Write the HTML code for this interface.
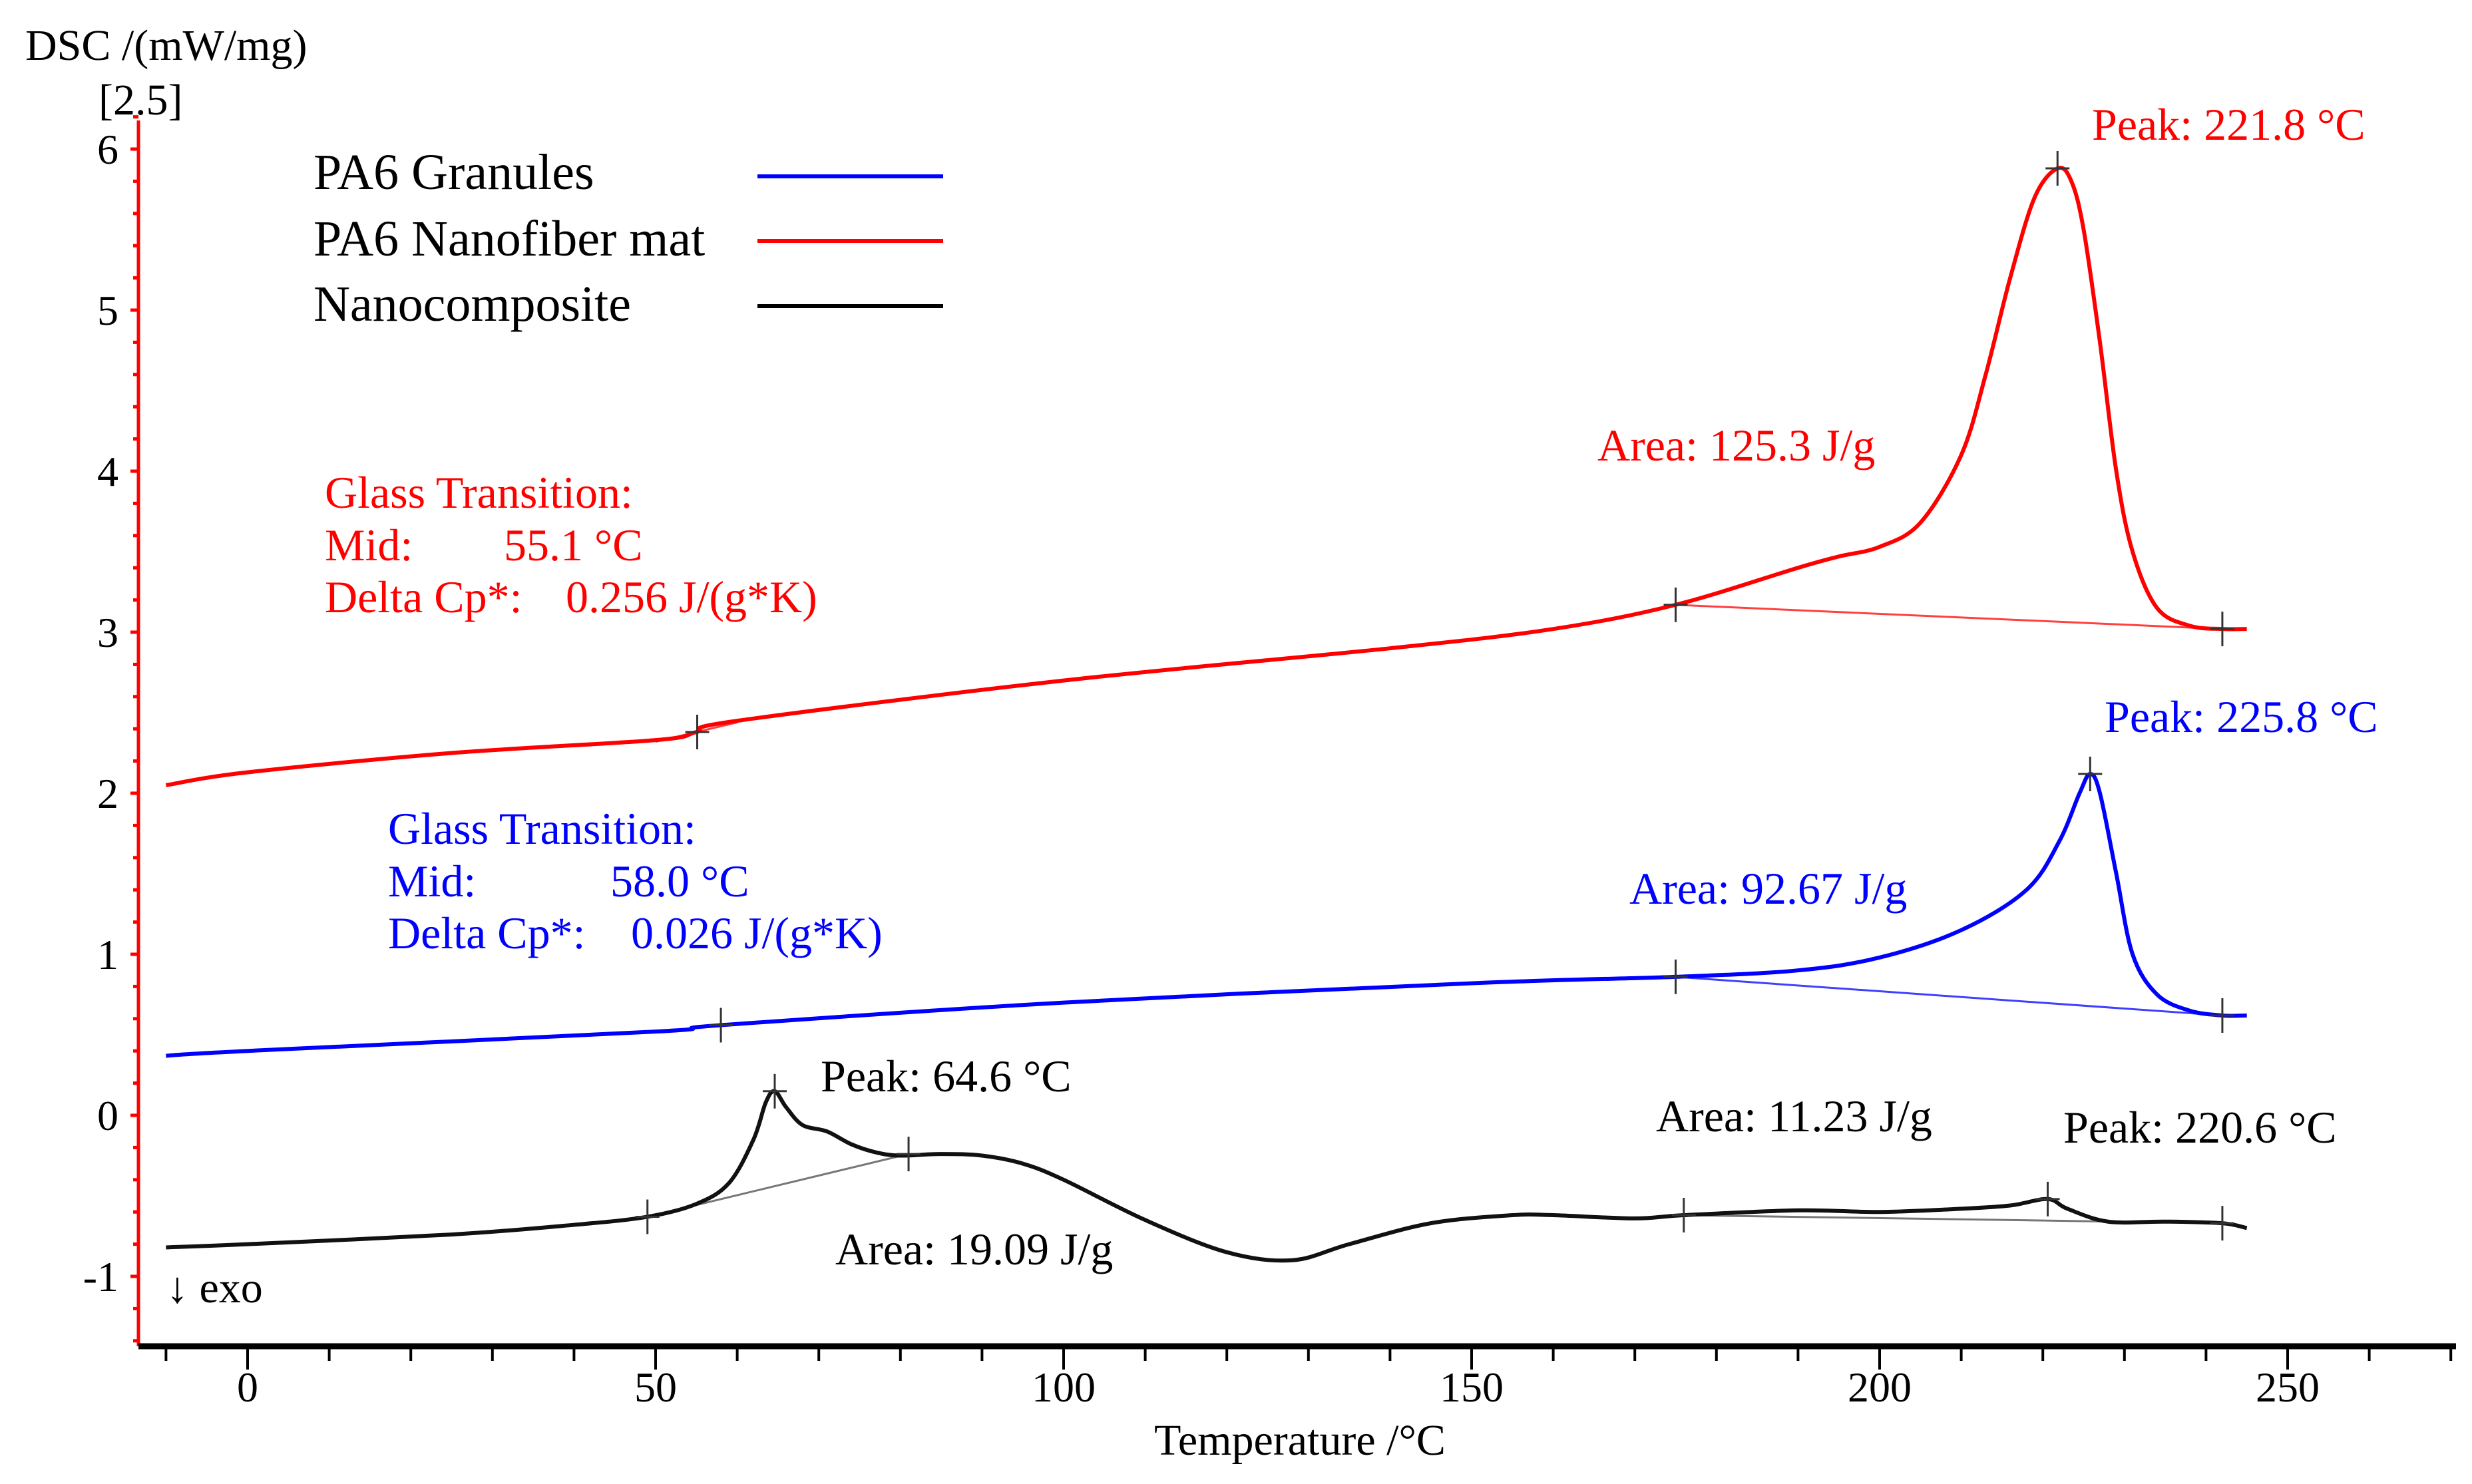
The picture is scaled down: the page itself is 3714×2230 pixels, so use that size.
<!DOCTYPE html>
<html><head><meta charset="utf-8"><style>
html,body{margin:0;padding:0;background:#fff;}
svg{display:block;font-family:"Liberation Serif",serif;}
</style></head><body>
<svg id="chart" width="3714" height="2230" viewBox="0 0 3714 2230" xmlns="http://www.w3.org/2000/svg">
<rect width="3714" height="2230" fill="#fff"/>
<g id="axes"></g>
<g id="series"></g>
<g id="labels"></g>
</svg>
<script>
// ---- data ----
const redT = [-10,0,25,50,55,60,100,140,160,175,190,195,200,205,210,213,216,219,221.8,223.5,225,227,229,231,234,238,242,245];
const redV = [2.05,2.13,2.25,2.33,2.38,2.45,2.7,2.9,3.02,3.17,3.4,3.47,3.53,3.68,4.1,4.6,5.2,5.7,5.88,5.8,5.5,4.8,4.0,3.5,3.15,3.04,3.02,3.02];
const blueT = [-10,0,50,58,100,150,175,190,200,210,218,222,224.5,225.8,227,229,231,234,238,242,245];
const blueV = [0.37,0.4,0.52,0.56,0.7,0.82,0.86,0.9,0.98,1.15,1.4,1.7,2.0,2.12,2.0,1.5,1.0,0.75,0.65,0.62,0.62];
const blackT = [-10,0,25,40,49,55,59,62,63.5,64.6,66,68,71,74,77,80,85,90,95,100,110,120,128,135,145,155,160,170,176,190,200,210,216,220.6,223,228,235,242,245];
const blackV = [-0.82,-0.8,-0.74,-0.68,-0.63,-0.55,-0.42,-0.15,0.08,0.15,0.05,-0.06,-0.1,-0.18,-0.23,-0.25,-0.24,-0.25,-0.3,-0.4,-0.65,-0.85,-0.9,-0.8,-0.67,-0.62,-0.62,-0.64,-0.62,-0.59,-0.6,-0.58,-0.56,-0.52,-0.58,-0.66,-0.66,-0.67,-0.7];
const redBase = [[175,3.17],[242,3.02]];
const redGlass = [[50,2.32],[60,2.44]];
const blueBase = [[175,0.86],[242,0.62]];
const blackBase1 = [[49,-0.63],[81,-0.24]];
const blackBase2 = [[176,-0.62],[242,-0.67]];
const redMarks = [[55.1,2.38],[175,3.17],[221.8,5.88],[242,3.02]];
const blueMarks = [[58,0.56],[175,0.86],[225.8,2.12],[242,0.62]];
const blackMarks = [[49,-0.63],[64.6,0.15],[81,-0.24],[176,-0.62],[220.6,-0.52],[242,-0.67]];
const yTickLabels = [-1,0,1,2,3,4,5,6];
const xTickLabels = [0,50,100,150,200,250];

// ---- scales ----
const X = t => 372 + t*12.26;
const Y = v => 1676 - v*242;
const NS = "http://www.w3.org/2000/svg";
function mk(tag, attrs, parent){const e=document.createElementNS(NS,tag);for(const k in attrs)e.setAttribute(k,attrs[k]);parent.appendChild(e);return e;}
const axes=document.getElementById('axes'), series=document.getElementById('series'), labels=document.getElementById('labels');

const ya = mk('line',{x1:208,y1:181,x2:208,y2:2023,stroke:'#ff0000','stroke-width':5},axes);


for(let v=-1.4; v<=6.2001; v+=0.2){
  const vv=Math.round(v*10)/10; const major=Math.abs(vv-Math.round(vv))<1e-6;
  const t=mk('line',{x1:major?196:200,y1:Y(vv),x2:208,y2:Y(vv),stroke:'#ff0000','stroke-width':5},axes);
  
  
}
yTickLabels.forEach(v=>{
  const t=mk('text',{x:178,y:Y(v)+22,'font-size':64,'text-anchor':'end',fill:'#000'},labels);
  t.textContent=v;
  
  
});
const xa = mk('line',{x1:208,y1:2023,x2:3690,y2:2023,stroke:'#000','stroke-width':9},axes);


for(let t=-10;t<=270;t+=10){
  const major=t%50===0;
  const l=mk('line',{x1:X(t),y1:2023,x2:X(t),y2:major?2058:2045,stroke:'#000','stroke-width':4},axes);
  
  
}
xTickLabels.forEach(t=>{
  const e=mk('text',{x:X(t),y:2106,'font-size':64,'text-anchor':'middle',fill:'#000'},labels);
  e.textContent=t;
  
  
});

function path(T,V){
  const p=T.map((t,i)=>[X(t),Y(V[i])]);
  let d=`M${p[0][0]},${p[0][1]}`;
  for(let i=0;i<p.length-1;i++){
    const p0=p[Math.max(0,i-1)],p1=p[i],p2=p[i+1],p3=p[Math.min(p.length-1,i+2)];
    const c1=[p1[0]+(p2[0]-p0[0])/6,p1[1]+(p2[1]-p0[1])/6];
    const c2=[p2[0]-(p3[0]-p1[0])/6,p2[1]-(p3[1]-p1[1])/6];
    d+=` C${c1[0]},${c1[1]} ${c2[0]},${c2[1]} ${p2[0]},${p2[1]}`;
  }
  return d;
}
function line(seg,col,name){
  const l=mk('line',{x1:X(seg[0][0]),y1:Y(seg[0][1]),x2:X(seg[1][0]),y2:Y(seg[1][1]),stroke:col,'stroke-width':3},series);
  
  
}
function marks(M,name){
  M.forEach(m=>{
    const x=X(m[0]),y=Y(m[1]);
    const g=mk('path',{d:`M${x-18},${y}H${x+18}M${x},${y-26}V${y+26}`,stroke:'#333','stroke-width':3,fill:'none'},series);
    
    
  });
}
line(redBase,'#ff4040','red-baseline'); line(redGlass,'#ff4040','red-glass-tangent');
line(blueBase,'#4040ff','blue-baseline');
line(blackBase1,'#777','black-baseline-1'); line(blackBase2,'#777','black-baseline-2');
const rp=mk('path',{d:path(redT,redV),stroke:'#ff0000','stroke-width':6,fill:'none'},series);


const bp=mk('path',{d:path(blueT,blueV),stroke:'#0000ff','stroke-width':6,fill:'none'},series);


const kp=mk('path',{d:path(blackT,blackV),stroke:'#111','stroke-width':6,fill:'none'},series);


marks(redMarks,'red-marker'); marks(blueMarks,'blue-marker'); marks(blackMarks,'black-marker');
</script>
<script>
(function(){
const NS="http://www.w3.org/2000/svg", L=document.getElementById('labels');
const items=[
 ['DSC /(mW/mg)',38,90,'#000','y-axis-title',null,66],
 ['[2.5]',148,172,'#000','y-axis-offset',null,66],
 ['Temperature /°C',1953,2186,'#000','x-axis-title','middle',66],
 ['PA6 Granules',471,284,'#000','legend-label-granules',null,76],
 ['PA6 Nanofiber mat',471,384,'#000','legend-label-nanofiber',null,76],
 ['Nanocomposite',471,482,'#000','legend-label-nanocomposite',null,76],
 ['Peak: 221.8 °C',3143,210,'#ff0000','red-peak-label',null,68],
 ['Area: 125.3 J/g',2400,692,'#ff0000','red-area-label',null,68],
 ['Glass Transition:',488,763,'#ff0000','red-glass-label',null,68],
 ['Mid:',488,842,'#ff0000','red-mid-label',null,68],
 ['55.1 °C',757,842,'#ff0000','red-mid-value',null,68],
 ['Delta Cp*:',488,920,'#ff0000','red-cp-label',null,68],
 ['0.256 J/(g*K)',850,920,'#ff0000','red-cp-value',null,68],
 ['Peak: 225.8 °C',3162,1100,'#0000ff','blue-peak-label',null,68],
 ['Area: 92.67 J/g',2448,1358,'#0000ff','blue-area-label',null,68],
 ['Glass Transition:',583,1268,'#0000ff','blue-glass-label',null,68],
 ['Mid:',583,1347,'#0000ff','blue-mid-label',null,68],
 ['58.0 °C',917,1347,'#0000ff','blue-mid-value',null,68],
 ['Delta Cp*:',583,1425,'#0000ff','blue-cp-label',null,68],
 ['0.026 J/(g*K)',948,1425,'#0000ff','blue-cp-value',null,68],
 ['Peak: 64.6 °C',1233,1640,'#000','black-peak1-label',null,68],
 ['Area: 11.23 J/g',2488,1700,'#000','black-area2-label',null,68],
 ['Peak: 220.6 °C',3100,1717,'#000','black-peak2-label',null,68],
 ['Area: 19.09 J/g',1255,1900,'#000','black-area1-label',null,68],
 ['↓ exo',250,1957,'#000','exo-direction-label',null,66]
];
items.forEach(it=>{
  const t=document.createElementNS(NS,'text');
  t.setAttribute('x',it[1]);t.setAttribute('y',it[2]);t.setAttribute('fill',it[3]);
  t.setAttribute('font-size',it[6]);
  if(it[5])t.setAttribute('text-anchor',it[5]);
  t.textContent=it[0];
  
  
  L.appendChild(t);
});
const lg=[[265,'#0000ff','legend-line-granules'],[362,'#ff0000','legend-line-nanofiber'],[460,'#000','legend-line-nanocomposite']];
lg.forEach(l=>{
  const e=document.createElementNS(NS,'line');
  e.setAttribute('x1',1138);e.setAttribute('x2',1417);e.setAttribute('y1',l[0]);e.setAttribute('y2',l[0]);
  e.setAttribute('stroke',l[1]);e.setAttribute('stroke-width',6);
  
  
  L.appendChild(e);
});
})();
</script>
</body></html>
